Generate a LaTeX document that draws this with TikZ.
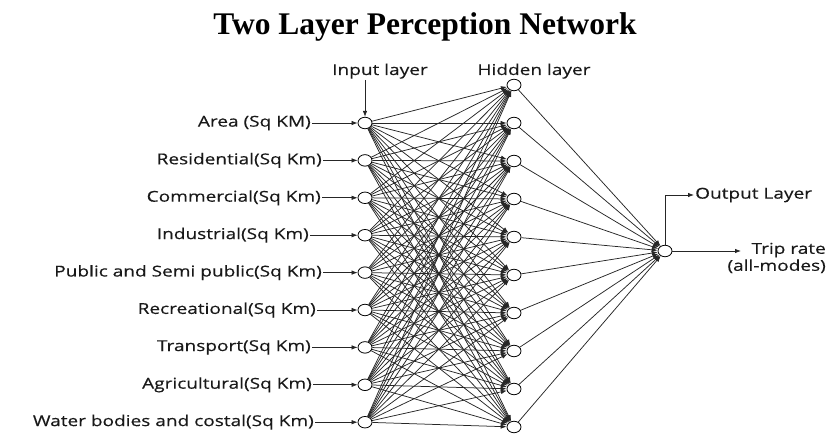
\documentclass[tikz,border=0pt]{standalone}
\usepackage{fontspec}
\setmainfont{Liberation Serif}
\newfontfamily\labelfont[FakeStretch=1.27,FakeBold=0.4]{Open Sans}
\usetikzlibrary{arrows.meta,shapes.geometric}

\begin{document}
\begin{tikzpicture}[>={Latex[length=6pt,width=4.5pt]}, x=1pt, y=-1pt,
    neuron/.style={draw, ellipse, minimum width=14pt, minimum height=11.5pt, inner sep=0pt, line width=0.8pt},
    txt/.style={font=\labelfont\fontsize{15}{17}\selectfont, inner sep=1pt, text=black!90},
    link/.style={->, line width=0.75pt, black!85}]
    \useasboundingbox (0,0) rectangle (828,436);
    \node[anchor=base, font=\bfseries\fontsize{31.5}{36}\selectfont] (title) at (425,35) {Two Layer Perception Network};
    % input layer with its labels
    \foreach \name/\xe [count=\i] in {Area (Sq KM)/312, Residential(Sq Km)/323, Commercial(Sq Km)/322,
        Industrial(Sq Km)/310, Public and Semi public(Sq Km)/323, Recreational(Sq Km)/317,
        Transport(Sq Km)/312, Agricultural(Sq Km)/313, Water bodies and costal(Sq Km)/315} {
        \node[neuron] (in\i) at (365,{123+(\i-1)*37.4}) {};
        \node[txt, anchor=east] (lbl\i) at (\xe,{123+(\i-1)*37.4}) {\name};
        \draw[link] (lbl\i.east) -- (in\i.west);
    }
    % hidden layer
    \foreach \j in {1,...,10}
        \node[neuron] (hid\j) at (514,{85+(\j-1)*38}) {};
    \node[neuron] (out) at (665,251) {};
    \foreach \i in {1,...,9}
        \foreach \j in {1,...,10}
            \draw[link] (in\i) -- (hid\j);
    \foreach \j in {1,...,10}
        \draw[link] (hid\j) -- (out);
    % layer captions
    \node[txt, anchor=base] (inlbl) at (380,75) {Input layer};
    \draw[link] (in1 |- inlbl.south) -- (in1.north);
    \node[txt, anchor=base] (hidlbl) at (534,75) {Hidden layer};
    \node[txt, anchor=west] (olbl) at (694,195) {Output Layer};
    \draw[link] (out.north) |- (olbl.west);
    \node[txt, anchor=east, align=right] (trip) at (827,258) {Trip rate\\(all-modes)};
    \coordinate (tripend) at (741,251);
    \draw[link] (out.east) -- (tripend);
\end{tikzpicture}
\end{document}
